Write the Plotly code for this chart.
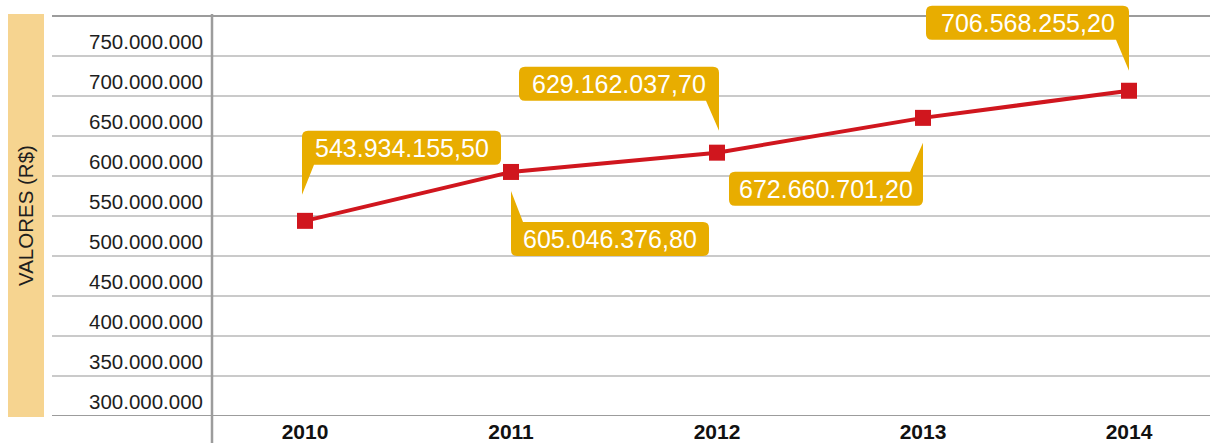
import plotly.graph_objects as go

# ---------------- data ----------------
years = ["2010", "2011", "2012", "2013", "2014"]
values = [543934155.50, 605046376.80, 629162037.70, 672660701.20, 706568255.20]
value_labels = ["543.934.155,50", "605.046.376,80", "629.162.037,70",
                "672.660.701,20", "706.568.255,20"]
y_tick_values = [300e6, 350e6, 400e6, 450e6, 500e6, 550e6, 600e6, 650e6, 700e6, 750e6]
y_tick_labels = ["300.000.000", "350.000.000", "400.000.000", "450.000.000",
                 "500.000.000", "550.000.000", "600.000.000", "650.000.000",
                 "700.000.000", "750.000.000"]
y_grid_top = 800e6
y_range = [300e6, 820e6]
y_title = "VALORES (R$)"

x_idx = list(range(len(years)))

# ---------------- styles ----------------
FONT = "Liberation Sans, Arial, Helvetica, sans-serif"
RED = "#D0161E"
GOLD = "#E8AD00"
TAN = "#F6D490"
GRID = "#b9b9b9"
GRID_DARK = "#9c9c9c"
W, H = 1210, 443
ML, MR, MT, MB = 212, 0, 0, 27
PW, PH = W - ML - MR, H - MT - MB
BOTTOM = H - MB  # pixel row of the plot-area bottom

# callout geometry (pixel offsets from the marker, screen coords: y down)
callouts = [
    dict(L=-3, R=196, T=-90, B=-56, tail="bl", w=12, tip=-26),
    dict(L=0, R=198, T=50, B=84, tail="tl", w=12, tip=19),
    dict(L=-198, R=2, T=-86, B=-52, tail="br", w=13, tip=-22),
    dict(L=-194, R=0, T=54, B=88, tail="tr", w=13, tip=25),
    dict(L=-203, R=0, T=-85, B=-51, tail="br", w=13, tip=-20),
]


def callout_path(L, R, T, B, tail, w, tip, r=6):
    def P(x, y):
        return f"{x:.1f},{-y:.1f}"
    seg = []
    if tail == "tl":
        seg += ["M" + P(L, T), "L" + P(L, tip), "L" + P(L + w, T)]
    else:
        seg += ["M" + P(L, T + r), "Q" + P(L, T) + " " + P(L + r, T)]
    if tail == "tr":
        seg += ["L" + P(R - w, T), "L" + P(R, tip)]
    else:
        seg += ["L" + P(R - r, T), "Q" + P(R, T) + " " + P(R, T + r)]
    if tail == "br":
        seg += ["L" + P(R, tip), "L" + P(R - w, B)]
    else:
        seg += ["L" + P(R, B - r), "Q" + P(R, B) + " " + P(R - r, B)]
    if tail == "bl":
        seg += ["L" + P(L + w, B), "L" + P(L, tip)]
    else:
        seg += ["L" + P(L + r, B), "Q" + P(L, B) + " " + P(L, B - r)]
    seg.append("Z")
    return " ".join(seg)


fig = go.Figure()
fig.add_trace(go.Scatter(
    x=x_idx, y=values, mode="lines+markers",
    line=dict(color=RED, width=4),
    marker=dict(symbol="square", size=16, color=RED),
    hoverinfo="skip", showlegend=False,
))

shapes = []
annotations = []

# y-title box
shapes.append(dict(type="rect", xref="paper", yref="paper",
                   x0=(8 - ML) / PW, x1=(44 - ML) / PW,
                   y0=(BOTTOM - 417) / PH, y1=(BOTTOM - 14) / PH,
                   fillcolor=TAN, line=dict(width=0), layer="below"))
annotations.append(dict(xref="paper", yref="paper", x=(26 - ML) / PW,
                        y=(BOTTOM - 216) / PH, text=y_title, textangle=-90,
                        showarrow=False, xanchor="center", yanchor="middle",
                        font=dict(family=FONT, size=20.5, color="#1e1e1e")))

# horizontal grid lines (extend left of plot area)
grid_x0 = (52 - ML) / PW
for v in y_tick_values + [y_grid_top]:
    dark = v in (y_tick_values[0], y_grid_top)
    shapes.append(dict(type="line", xref="paper", yref="y", x0=grid_x0, x1=1,
                       y0=v, y1=v, layer="below",
                       line=dict(color=GRID_DARK if dark else GRID,
                                 width=2.2 if dark else 1.5)))
# vertical separator line
shapes.append(dict(type="line", xref="paper", yref="paper", x0=0, x1=0,
                   y0=-(MB) / PH, y1=(BOTTOM - 14) / PH, layer="below",
                   line=dict(color=GRID_DARK, width=2.5)))

# callouts
for xv, yv, lab, c in zip(x_idx, values, value_labels, callouts):
    shapes.append(dict(type="path", xref="x", yref="y",
                       xsizemode="pixel", ysizemode="pixel",
                       xanchor=xv, yanchor=yv,
                       path=callout_path(c["L"], c["R"], c["T"], c["B"],
                                         c["tail"], c["w"], c["tip"]),
                       fillcolor=GOLD, line=dict(width=0), layer="above"))
    annotations.append(dict(x=xv, y=yv, xref="x", yref="y", text=lab,
                            showarrow=False, xanchor="center", yanchor="middle",
                            xshift=(c["L"] + c["R"]) / 2,
                            yshift=-(c["T"] + c["B"]) / 2,
                            font=dict(family=FONT, size=25, color="white")))

px_per_unit = 206.0
x0 = -(305 - ML) / px_per_unit
x1 = x0 + PW / px_per_unit

fig.update_layout(
    width=W, height=H,
    margin=dict(l=ML, r=MR, t=MT, b=MB, pad=0),
    paper_bgcolor="white", plot_bgcolor="white",
    shapes=shapes, annotations=annotations,
    xaxis=dict(range=[x0, x1], tickvals=x_idx, ticktext=years,
               showgrid=False, zeroline=False, showline=False, ticks="",
               automargin=False, ticklabelstandoff=1,
               tickfont=dict(family=FONT, size=21, color="#111111", weight="bold")),
    yaxis=dict(range=y_range, tickvals=y_tick_values,
               ticktext=y_tick_labels, showgrid=False, zeroline=False,
               showline=False, ticks="", automargin=False,
               ticklabelshift=-14, ticklabelstandoff=8,
               tickfont=dict(family=FONT, size=20.5, color="#1e1e1e")),
)

fig.write_html("out.html")
